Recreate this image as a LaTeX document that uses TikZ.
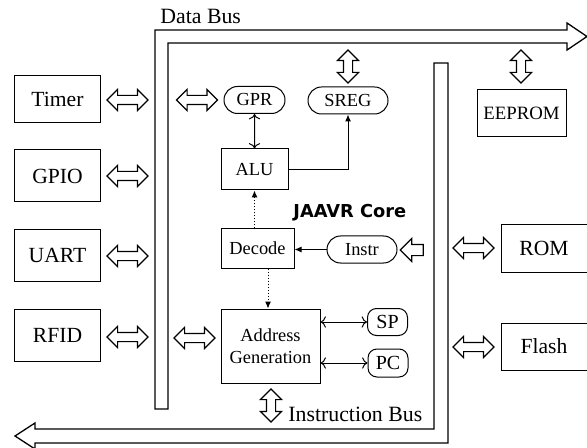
\documentclass[tikz,border=0pt]{standalone}
\usepackage{fontspec}
\setmainfont{Liberation Serif}
\newfontfamily\corefont{DejaVu Sans}
\usetikzlibrary{arrows.meta,calc,shapes.arrows,shapes.misc}
\tikzset{
  periph/.style={draw, line width=0.5pt, inner sep=0pt, minimum width=43pt, minimum height=26pt, font=\fontsize{10.8}{12}\selectfont},
  unitbox/.style={draw, line width=0.5pt, inner sep=0pt, align=center, font=\fontsize{9.2}{11}\selectfont},
  regpill/.style={draw, line width=0.5pt, rounded rectangle, inner sep=0pt, minimum height=13.5pt, font=\fontsize{9.2}{11}\selectfont},
  ptrreg/.style={draw, line width=0.5pt, rounded corners=4.5pt, inner sep=0pt, minimum width=20pt, minimum height=13.5pt, font=\fontsize{10}{11}\selectfont},
  busport/.style={double arrow, draw, line width=0.55pt, inner xsep=0pt, inner ysep=2pt, minimum width=10pt, double arrow head extend=3pt, minimum height=20.5pt},
  vport/.style={busport, rotate=90, minimum height=16.5pt},
  feedport/.style={single arrow, draw, line width=0.55pt, inner xsep=0pt, inner ysep=2.5pt, minimum width=11pt, single arrow head extend=3pt, minimum height=11.5pt, shape border rotate=180},
  buswall/.style={draw, line width=0.65pt, line join=miter},
  link/.style={-{Latex[length=3.5pt,width=3pt]}, line width=0.5pt},
  ctrllink/.style={link, densely dotted}
}
\begin{document}
\begin{tikzpicture}[x=0.5pt,y=-0.5pt]
  \useasboundingbox (0,0) rectangle (587,448);

  % data bus (top) and instruction bus (bottom)
  \draw[buswall] (155,409) -- (155,30) -- (567,30) -- (567,23) -- (587,36.5)
    -- (567,50) -- (567,43) -- (168,43) -- (168,409) -- cycle;
  \draw[buswall] (434,63) -- (448,63) -- (448,443) -- (35,443) -- (35,449)
    -- (15,436) -- (35,423) -- (35,429) -- (434,429) -- cycle;
  \node[anchor=base west, inner sep=0pt, font=\fontsize{10.9}{12}\selectfont] (dbuslbl) at (160,24) {Data Bus};
  \node[anchor=base west, inner sep=0pt, font=\fontsize{10.9}{12}\selectfont] (ibuslbl) at (288,421) {Instruction Bus};

  % peripherals
  \node[periph, minimum height=23.5pt] (timer) at (57.5,99.5) {Timer};
  \node[periph] (gpio) at (57.5,176) {GPIO};
  \node[periph] (uart) at (57.5,255.5) {UART};
  \node[periph] (rfid) at (57.5,335.5) {RFID};
  \node[busport] (timerio) at (127.5,100) {};
  \node[busport] (gpioio) at (127.5,176) {};
  \node[busport] (uartio) at (127.5,256) {};
  \node[busport] (rfidio) at (127.5,337) {};

  % memories
  \node[periph, minimum width=44.5pt, minimum height=23.5pt, font=\fontsize{9.4}{11}\selectfont] (eeprom) at (521.5,113.5) {EEPROM};
  \node[periph, minimum height=23.5pt] (rom) at (544,248.5) {ROM};
  \node[periph, minimum height=23.5pt] (flash) at (544,346.5) {Flash};
  \node[vport] (eepromio) at (521,66.5) {};
  \node[busport] (romio) at (473.5,248) {};
  \node[busport] (flashio) at (473.5,347) {};

  % core
  \node[anchor=base west, inner sep=0pt, font=\corefont\bfseries\fontsize{8.9}{10}\selectfont] (corelbl) at (293,218) {JAAVR Core};
  \node[regpill, minimum width=30.5pt] (gpr) at (254.5,100) {GPR};
  \node[regpill, minimum width=40pt] (sreg) at (348,100.5) {SREG};
  \node[unitbox, minimum width=33.5pt, minimum height=20.5pt] (alu) at (254.5,169.5) {ALU};
  \node[unitbox, minimum width=36.5pt, minimum height=19.5pt] (decode) at (257.5,248.5) {Decode};
  \node[regpill, minimum width=35pt] (instr) at (362,249.5) {Instr};
  \node[unitbox, minimum width=49.5pt, minimum height=37pt] (addrgen) at (270.5,346) {Address\\Generation};
  \node[ptrreg] (sp) at (387.5,322) {SP};
  \node[ptrreg, minimum height=14pt] (pc) at (388,363) {PC};
  \node[busport] (gprio) at (197,100) {};
  \node[vport] (sregio) at (348,66.5) {};
  \node[busport] (addrio) at (194.5,338) {};
  \node[vport] (ibusio) at (271,405.5) {};
  \node[feedport] (instrin) at (414.5,250) {};

  \draw[link, <->] (gpr) -- (alu);
  \draw[link] (alu.east) -| (sreg.south);
  \draw[ctrllink] (decode.north -| alu.south) -- (alu.south);
  \draw[ctrllink] ($(decode.south)+(10.5,0)$) -- ($(addrgen.north)+(-2.5,0)$);
  \draw[link] (instr.west) -- (instr.west -| decode.east);
  \draw[link, <->] (sp.west -| addrgen.east) -- (sp.west);
  \draw[link, <->] (pc.west -| addrgen.east) -- (pc.west);
\end{tikzpicture}
\end{document}
